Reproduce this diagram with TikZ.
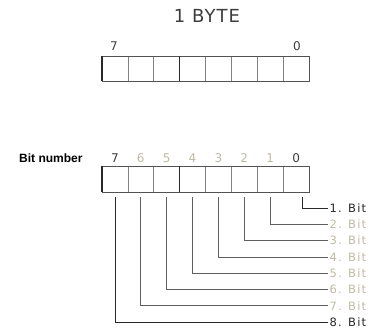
\documentclass[tikz,border=0pt]{standalone}
\usepackage{fontspec}
\setmainfont{DejaVu Sans}
\newfontfamily\lblfont[LetterSpace=10]{DejaVu Sans}
\newfontfamily\titlefont[LetterSpace=6]{DejaVu Sans}
\newfontfamily\bnfont{Liberation Sans}
\definecolor{pale}{RGB}{190,186,166}
\definecolor{ink}{RGB}{40,40,40}
\definecolor{grid}{RGB}{130,130,130}
\definecolor{conngray}{RGB}{95,95,95}
\begin{document}
\begin{tikzpicture}[x=1pt,y=-1pt,
  cell/.style={draw=grid,line width=0.6pt,minimum width=25.875pt,inner sep=0pt,outer sep=0pt},
  outerbox/.style={draw=ink!80,line width=0.8pt},
  strong/.style={draw=ink,line width=1.1pt},
  dig/.style={font=\fontsize{12}{14}\selectfont,anchor=base,inner sep=0pt},
  lbl/.style={font=\lblfont\fontsize{11.5}{13}\selectfont,anchor=west,inner sep=1.5pt},
  conn/.style={draw=conngray,line width=0.7pt},
  connb/.style={draw=ink,line width=0.8pt}]
\useasboundingbox (0,0) rectangle (377,329);
% title
\node[font=\titlefont\fontsize{18}{20}\selectfont,anchor=base,text=ink!90,inner sep=0pt] (title) at (207,23) {1 BYTE};
% top byte
\foreach \i in {0,...,7}
  \node[cell,minimum height=25pt] (t\i) at ({309-25.875*(\i+0.5)},68.5) {};
\draw[outerbox] (t7.north west) rectangle (t0.south east);
\draw[strong] (t7.north west) -- (t7.south west);
\draw[strong] (t4.north west) -- (t4.south west);
\node[dig,text=ink!90] (d7) at (114,50) {7};
\node[dig,text=ink!90] (d0) at (297,50) {0};
% bottom byte
\node[font=\bnfont\bfseries\fontsize{12}{14}\selectfont,anchor=base west,inner sep=0pt] (bn) at (19,162) {Bit number};
\foreach \i in {0,...,7}
  \node[cell,minimum height=26pt] (b\i) at ({309-25.875*(\i+0.5)},179) {};
\draw[outerbox] (b7.north west) rectangle (b0.south east);
\draw[strong] (b7.north west) -- (b7.south west);
\draw[strong] (b4.north west) -- (b4.south west);
\node[dig,text=ink!90] (n7) at ({309-25.875*7.5},162) {7};
\foreach \i in {1,...,6}
  \node[dig,text=pale] (n\i) at ({309-25.875*(\i+0.5)},162) {\i};
\node[dig,text=ink!90] (n0) at ({309-25.875*0.5},162) {0};
% bit labels
\node[lbl,text=ink] (l1) at (328,208) {1. Bit};
\foreach \k in {2,...,7}
  \node[lbl,text=pale] (l\k) at (328,{208+16.3*(\k-1)}) {\k. Bit};
\node[lbl,text=ink] (l8) at (328,{208+16.3*7}) {8. Bit};
% connectors
\draw[connb] ([xshift=6pt,yshift=-5pt]b0.south) |- (l1.west);
\draw[conn] ([yshift=-5pt]b1.south) |- (l2.west);
\draw[conn] ([yshift=-5pt]b2.south) |- (l3.west);
\draw[conn] ([yshift=-5pt]b3.south) |- (l4.west);
\draw[conn] ([yshift=-5pt]b4.south) |- (l5.west);
\draw[conn] ([yshift=-5pt]b5.south) |- (l6.west);
\draw[conn] ([yshift=-5pt]b6.south) |- (l7.west);
\draw[connb] ([yshift=-5pt]b7.south) |- (l8.west);
\end{tikzpicture}
\end{document}
